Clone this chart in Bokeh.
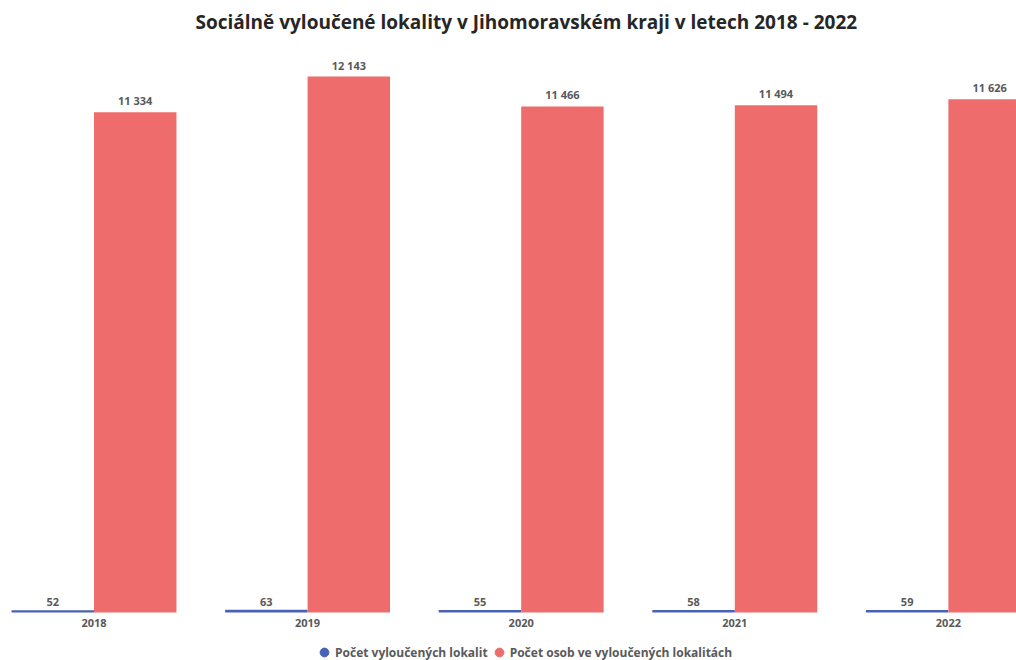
from bokeh.plotting import figure
from bokeh.models import ColumnDataSource, Range1d, FixedTicker, Legend, LegendItem
from bokeh.transform import dodge
from bokeh.core.properties import value
from bokeh.embed import file_html
from bokeh.resources import INLINE

years = ["2018", "2019", "2020", "2021", "2022"]
lokality = [52, 63, 55, 58, 59]
osoby = [11334, 12143, 11466, 11494, 11626]

def fmt(v):
    return f"{v:,}".replace(",", " ")

idx = list(range(len(years)))
src = ColumnDataSource(dict(
    x=idx,
    lok=lokality,
    oso=osoby,
    lok_lbl=[fmt(v) for v in lokality],
    oso_lbl=[fmt(v) for v in osoby],
))

BLUE = "#4A62B6"
RED = "#EE6C6C"
GRAY = "#595959"
FONT = "Open Sans"

p = figure(frame_width=1016, frame_height=620, output_backend="svg", toolbar_location=None,
           x_range=Range1d(-0.4377, 4.3189), y_range=Range1d(-1087.5, 12959),
           min_border_left=0, min_border_right=0, min_border_top=40, min_border_bottom=0)
p.outline_line_color = None
p.background_fill_color = "white"
p.border_fill_color = "white"

p.title.text = "Sociálně vyloučené lokality v Jihomoravském kraji v letech 2018 - 2022"
p.title.align = "left"
p.title.offset = 195
p.title.text_font = FONT
p.title.text_font_size = "19px"
p.title.text_font_style = "bold"
p.title.text_color = "#262626"
p.title.standoff = 11

w = 0.386
p.vbar(x=dodge("x", -w / 2), top="lok", width=w, source=src,
       fill_color=BLUE, line_color=None)
p.vbar(x=dodge("x", w / 2), top="oso", width=w, source=src,
       fill_color=RED, line_color=None)

p.text(x=dodge("x", -w / 2), y="lok", text="lok_lbl", source=src,
       text_align="center", text_baseline="bottom", y_offset=-4,
       text_font=value(FONT), text_font_size="11px", text_font_style="bold",
       text_color=GRAY)
p.text(x=dodge("x", w / 2), y="oso", text="oso_lbl", source=src,
       text_align="center", text_baseline="bottom", y_offset=-4,
       text_font=value(FONT), text_font_size="11px", text_font_style="bold",
       text_color=GRAY)

# legend markers (zero-size scatter on real data)
l_blue = p.scatter(x="x", y="lok", source=src, size=0, marker="circle",
                   fill_color=BLUE, line_color=BLUE)
l_red = p.scatter(x="x", y="oso", source=src, size=0, marker="circle",
                  fill_color=RED, line_color=RED)

p.xaxis.fixed_location = 0
p.xaxis.ticker = FixedTicker(ticks=idx)
p.xaxis.major_label_overrides = {i: y for i, y in zip(idx, years)}
p.xaxis.axis_line_color = None
p.xaxis.major_tick_line_color = None
p.xaxis.minor_tick_line_color = None
p.xaxis.major_tick_out = 0
p.xaxis.major_tick_in = 0
p.xaxis.major_label_standoff = 7
p.xaxis.major_label_text_font = FONT
p.xaxis.major_label_text_font_size = "11px"
p.xaxis.major_label_text_font_style = "bold"
p.xaxis.major_label_text_color = GRAY
p.yaxis.visible = False
p.xgrid.grid_line_color = None
p.ygrid.grid_line_color = None

legend = Legend(items=[
    LegendItem(label="Počet vyloučených lokalit", renderers=[l_blue]),
    LegendItem(label="Počet osob ve vyloučených lokalitách", renderers=[l_red]),
], orientation="horizontal", location=(313, -3))
legend.border_line_color = None
legend.background_fill_alpha = 0
legend.label_text_font = FONT
legend.label_text_font_size = "12px"
legend.label_text_font_style = "bold"
legend.label_text_color = GRAY
legend.glyph_width = 22
legend.glyph_height = 22
legend.label_standoff = -6
legend.spacing = 0
legend.padding = 0
legend.margin = 0
p.add_layout(legend, "center")

open("out.html", "w").write(file_html(p, INLINE))
